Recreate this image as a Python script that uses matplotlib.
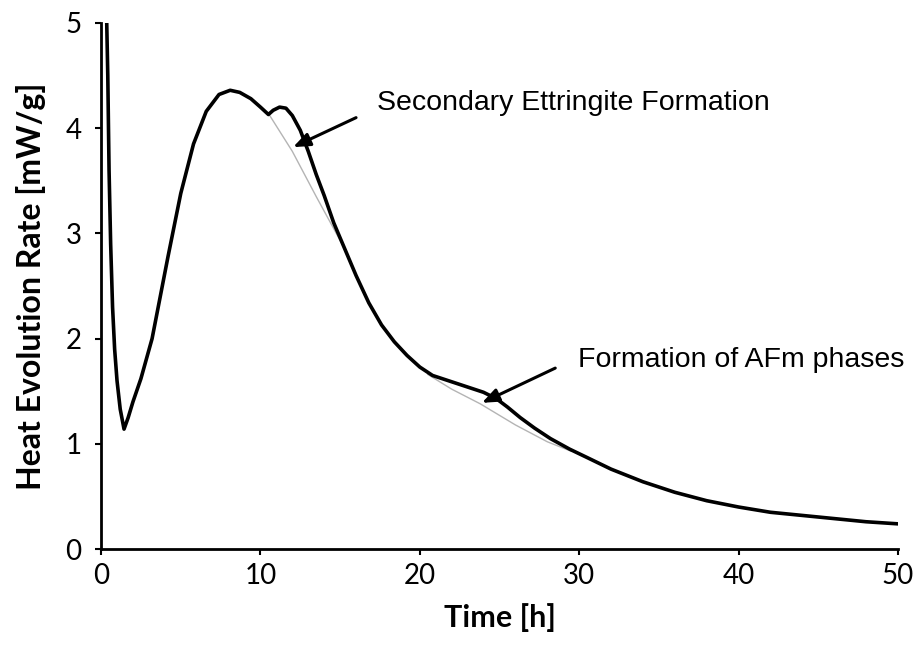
import matplotlib.pyplot as plt

# calorimetry curve, heat flow vs hydration time
time_h = [0.35, 0.42, 0.5, 0.6, 0.72, 0.85, 1.0, 1.2, 1.44, 1.7, 2.0, 2.5, 3.2, 4.2, 5.0,
          5.8, 6.6, 7.4, 8.1, 8.7, 9.4, 10.0, 10.5, 10.8, 11.2, 11.6, 12.0, 12.5, 13.0,
          13.5, 14.0, 14.6, 15.3, 16.0, 16.8, 17.6, 18.4, 19.2, 20.0, 20.8, 22.0, 23.0,
          24.0, 24.8, 25.5, 26.3, 27.2, 28.2, 29.4, 30.5, 32.0, 34.0, 36.0, 38.0, 40.0,
          42.0, 44.0, 46.0, 48.0, 50.0]
heat_rate = [5.03, 4.5, 3.6, 2.9, 2.3, 1.9, 1.6, 1.33, 1.14, 1.25, 1.4, 1.62, 2.0, 2.78, 3.38,
             3.85, 4.16, 4.32, 4.36, 4.34, 4.28, 4.2, 4.13, 4.17, 4.2, 4.19, 4.12, 3.98, 3.78,
             3.56, 3.36, 3.1, 2.85, 2.6, 2.34, 2.13, 1.97, 1.84, 1.73, 1.65, 1.59, 1.54,
             1.49, 1.43, 1.35, 1.25, 1.15, 1.05, 0.95, 0.87, 0.76, 0.64, 0.54, 0.46, 0.4,
             0.35, 0.32, 0.29, 0.26, 0.24]

# baselines under the two shoulders
base1_t = [10.5, 12.0, 13.5, 15.3]
base1_q = [4.14, 3.78, 3.35, 2.85]
base2_t = [20.5, 22.0, 23.8, 26.0, 28.0, 29.5]
base2_q = [1.66, 1.52, 1.38, 1.18, 1.02, 0.93]

fig = plt.figure(figsize=(9.19, 6.46), dpi=100)
ax = fig.add_axes([0.11, 0.150, 0.867, 0.8145])

ax.plot(base1_t, base1_q, color='#b4b4b4', lw=1.0)
ax.plot(base2_t, base2_q, color='#b4b4b4', lw=1.0)
ax.plot(time_h, heat_rate, color='black', lw=2.6,
        solid_capstyle='round', solid_joinstyle='round')

ax.set_xlim(0, 50)
ax.set_ylim(0, 5)
ax.set_xticks([0, 10, 20, 30, 40, 50])
ax.set_yticks([0, 1, 2, 3, 4, 5])

for side in ['top', 'right']:
    ax.spines[side].set_visible(False)
for side in ['left', 'bottom']:
    ax.spines[side].set_linewidth(2.0)

ax.tick_params(axis='both', length=4, width=1.5, labelsize=20)
ax.tick_params(axis='x', pad=6)
ax.tick_params(axis='y', pad=10)
for lab in ax.get_xticklabels() + ax.get_yticklabels():
    lab.set_family('Lato')

ax.set_xlabel('Time [h]', fontsize=22, fontweight='bold', family='Lato', labelpad=10)
ax.set_ylabel('Heat Evolution Rate [mW/g]', fontsize=23, fontweight='bold', family='Lato',
              labelpad=14)

arrow = dict(arrowstyle='-|>,head_length=1.0,head_width=0.4', color='black', lw=2.2,
             shrinkA=0, shrinkB=0)
ax.annotate('', xy=(12.05, 3.82), xytext=(16.0, 4.1), arrowprops=arrow)
ax.text(17.3, 4.24, 'Secondary Ettringite Formation', fontsize=20.5,
        family='Liberation Sans', ha='left', va='center')
ax.annotate('', xy=(23.9, 1.39), xytext=(28.5, 1.72), arrowprops=arrow)
ax.text(29.9, 1.8, 'Formation of AFm phases', fontsize=20.5,
        family='Liberation Sans', ha='left', va='center')

fig.savefig('out.png', dpi=100)
